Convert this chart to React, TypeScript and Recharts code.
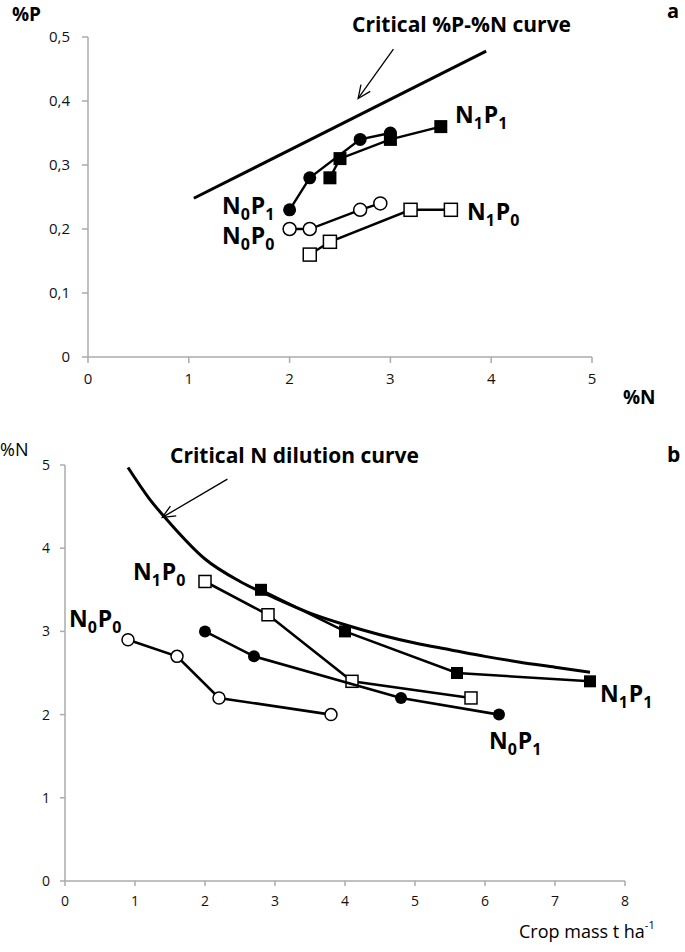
import React from 'react';
import {
    ScatterChart,
    Scatter,
    XAxis,
    YAxis,
    ReferenceLine,
} from 'recharts';

// ---- panel a: %P vs %N ----
const pTicksX = [0, 1, 2, 3, 4, 5];
const pTicksY = [0, 0.1, 0.2, 0.3, 0.4, 0.5];
const criticalPN = [{ x: 1.05, y: 0.248 }, { x: 3.95, y: 0.478 }];
const aN0P1 = [{ x: 2.0, y: 0.23 }, { x: 2.2, y: 0.28 }, { x: 2.7, y: 0.34 }, { x: 3.0, y: 0.35 }];
const aN1P1 = [{ x: 2.4, y: 0.28 }, { x: 2.5, y: 0.31 }, { x: 3.0, y: 0.34 }, { x: 3.5, y: 0.36 }];
const aN0P0 = [{ x: 2.0, y: 0.2 }, { x: 2.2, y: 0.2 }, { x: 2.7, y: 0.23 }, { x: 2.9, y: 0.24 }];
const aN1P0 = [{ x: 2.2, y: 0.16 }, { x: 2.4, y: 0.18 }, { x: 3.2, y: 0.23 }, { x: 3.6, y: 0.23 }];
const aArrow = [{ x: 3.03, y: 0.481 }, { x: 2.68, y: 0.404 }];

// ---- panel b: %N vs crop mass ----
const bTicksX = [0, 1, 2, 3, 4, 5, 6, 7, 8];
const bTicksY = [0, 1, 2, 3, 4, 5];
const dilutionCurve = [
    { x: 0.9, y: 4.97 }, { x: 1.2, y: 4.6 }, { x: 1.5, y: 4.3 }, { x: 2.0, y: 3.87 },
    { x: 2.5, y: 3.6 }, { x: 3.0, y: 3.4 }, { x: 3.5, y: 3.22 }, { x: 4.0, y: 3.08 },
    { x: 4.5, y: 2.96 }, { x: 5.0, y: 2.86 }, { x: 5.5, y: 2.78 }, { x: 6.0, y: 2.7 },
    { x: 6.5, y: 2.63 }, { x: 7.0, y: 2.57 }, { x: 7.5, y: 2.51 },
];
const bN0P0 = [{ x: 0.9, y: 2.9 }, { x: 1.6, y: 2.7 }, { x: 2.2, y: 2.2 }, { x: 3.8, y: 2.0 }];
const bN0P1 = [{ x: 2.0, y: 3.0 }, { x: 2.7, y: 2.7 }, { x: 4.8, y: 2.2 }, { x: 6.2, y: 2.0 }];
const bN1P0 = [{ x: 2.0, y: 3.6 }, { x: 2.9, y: 3.2 }, { x: 4.1, y: 2.4 }, { x: 5.8, y: 2.2 }];
const bN1P1 = [{ x: 2.8, y: 3.5 }, { x: 4.0, y: 3.0 }, { x: 5.6, y: 2.5 }, { x: 7.5, y: 2.4 }];
const bArrow = [{ x: 2.32, y: 4.83 }, { x: 1.39, y: 4.37 }];

const FONT = '"Open Sans", "Noto Sans", sans-serif';
const AXIS = '#ababab';

const markers = (size: number) => ({
    filledCircle: (p: any) => <circle cx={p.cx} cy={p.cy} r={size / 2} fill="#000" />,
    openCircle: (p: any) => <circle cx={p.cx} cy={p.cy} r={size / 2} fill="#fff" stroke="#000" strokeWidth={1.5} />,
    filledSquare: (p: any) => <rect x={p.cx - size / 2} y={p.cy - size / 2} width={size} height={size} fill="#000" />,
    openSquare: (p: any) => <rect x={p.cx - size / 2} y={p.cy - size / 2} width={size} height={size} fill="#fff" stroke="#000" strokeWidth={1.5} />,
});
const none = () => <g />;

const Arrow = (p: any) => {
    const { x1, y1, x2, y2 } = p;
    const ang = Math.atan2(y2 - y1, x2 - x1);
    const L = 14, a = 0.42;
    const h1 = `${x2 - L * Math.cos(ang - a)},${y2 - L * Math.sin(ang - a)}`;
    const h2 = `${x2 - L * Math.cos(ang + a)},${y2 - L * Math.sin(ang + a)}`;
    return (
        <g stroke="#000" strokeWidth={1.3} fill="none">
            <line x1={x1} y1={y1} x2={x2} y2={y2} />
            <polyline points={`${h1} ${x2},${y2} ${h2}`} />
        </g>
    );
};

const commaFmt = (v: number) => (v === 0 ? '0' : v.toFixed(1).replace('.', ','));

// label like N1P1 with subscripts
const NP = ({ x, y, n, p }: { x: number; y: number; n: string; p: string }) => (
    <text x={x} y={y} fontFamily={FONT} fontWeight={700} fontSize={23} fill="#000">
        N<tspan fontSize={16} dy={6}>{n}</tspan>
        <tspan dy={-6} dx={1}>P</tspan>
        <tspan fontSize={16} dy={6}>{p}</tspan>
    </text>
);

export default function App() {
    const mA = markers(13);
    const mB = markers(12);
    const lineA = { stroke: '#000', strokeWidth: 2.4 };
    const lineB = { stroke: '#000', strokeWidth: 2.6 };
    return (
        <div style={{ position: 'absolute', left: 0, top: 0, width: 685, height: 952, background: '#fff', fontFamily: FONT }}>
            <div style={{ position: 'absolute', left: 0, top: 0 }}>
                <ScatterChart width={685} height={400} margin={{ top: 37, right: 93, left: 28, bottom: 13 }}>
                    <XAxis
                        type="number" dataKey="x" domain={[0, 5]} ticks={pTicksX} height={30}
                        axisLine={{ stroke: AXIS, strokeWidth: 1.5 }} tickLine={{ stroke: AXIS, strokeWidth: 1.5 }}
                        tickSize={6} tickMargin={10}
                        tick={{ fontSize: 15, fill: '#111', fontFamily: FONT }}
                    />
                    <YAxis
                        type="number" dataKey="y" domain={[0, 0.5]} ticks={pTicksY} width={60}
                        axisLine={{ stroke: AXIS, strokeWidth: 1.5 }} tickLine={{ stroke: AXIS, strokeWidth: 1.5 }}
                        tickSize={6} tickMargin={12} tickFormatter={commaFmt}
                        tick={{ fontSize: 15, fill: '#111', fontFamily: FONT }}
                    />
                    <Scatter data={criticalPN} line={{ stroke: '#000', strokeWidth: 3 }} shape={none} isAnimationActive={false} />
                    <ReferenceLine segment={aArrow} shape={Arrow} ifOverflow="visible" />
                    <Scatter data={aN0P0} line={lineA} shape={mA.openCircle} isAnimationActive={false} />
                    <Scatter data={aN1P0} line={lineA} shape={mA.openSquare} isAnimationActive={false} />
                    <Scatter data={aN1P1} line={lineA} shape={mA.filledSquare} isAnimationActive={false} />
                    <Scatter data={aN0P1} line={lineA} shape={mA.filledCircle} isAnimationActive={false} />
                </ScatterChart>
            </div>
            <div style={{ position: 'absolute', left: 0, top: 420 }}>
                <ScatterChart width={685} height={500} margin={{ top: 45, right: 60, left: 25, bottom: 9 }}>
                    <XAxis
                        type="number" dataKey="x" domain={[0, 8]} ticks={bTicksX} height={30}
                        axisLine={{ stroke: AXIS, strokeWidth: 1.5 }} tickLine={{ stroke: AXIS, strokeWidth: 1.5 }}
                        tickSize={5} tickMargin={10}
                        tick={{ fontSize: 14, fill: '#111', fontFamily: FONT }}
                    />
                    <YAxis
                        type="number" dataKey="y" domain={[0, 5]} ticks={bTicksY} width={40}
                        axisLine={{ stroke: AXIS, strokeWidth: 1.5 }} tickLine={{ stroke: AXIS, strokeWidth: 1.5 }}
                        tickSize={5} tickMargin={10}
                        tick={{ fontSize: 14, fill: '#111', fontFamily: FONT }}
                    />
                    <Scatter data={dilutionCurve} line={{ stroke: '#000', strokeWidth: 3 }} lineJointType="monotone" shape={none} isAnimationActive={false} />
                    <ReferenceLine segment={bArrow} shape={Arrow} ifOverflow="visible" />
                    <Scatter data={bN0P0} line={lineB} shape={mB.openCircle} isAnimationActive={false} />
                    <Scatter data={bN1P0} line={lineB} shape={mB.openSquare} isAnimationActive={false} />
                    <Scatter data={bN0P1} line={lineB} shape={mB.filledCircle} isAnimationActive={false} />
                    <Scatter data={bN1P1} line={lineB} shape={mB.filledSquare} isAnimationActive={false} />
                </ScatterChart>
            </div>
            <svg width={685} height={952} style={{ position: 'absolute', left: 0, top: 0, pointerEvents: 'none' }}>
                {/* panel a texts */}
                <text x={12} y={21} fontFamily={FONT} fontWeight={700} fontSize={19}>%P</text>
                <text x={667} y={18} fontFamily={FONT} fontWeight={700} fontSize={20}>a</text>
                <text x={352} y={32} fontFamily={FONT} fontWeight={700} fontSize={21}>Critical %P-%N curve</text>
                <text x={623} y={404} fontFamily={FONT} fontWeight={700} fontSize={19}>%N</text>
                <NP x={455} y={123} n="1" p="1" />
                <NP x={222} y={214} n="0" p="1" />
                <NP x={222} y={244} n="0" p="0" />
                <NP x={467} y={220} n="1" p="0" />
                {/* panel b texts */}
                <text x={0} y={456} fontFamily={FONT} fontSize={18}>%N</text>
                <text x={667} y={462} fontFamily={FONT} fontWeight={700} fontSize={21}>b</text>
                <text x={170} y={463} fontFamily={FONT} fontWeight={700} fontSize={21}>Critical N dilution curve</text>
                <NP x={133} y={580} n="1" p="0" />
                <NP x={69} y={627} n="0" p="0" />
                <NP x={600} y={702} n="1" p="1" />
                <NP x={489} y={749} n="0" p="1" />
                <text x={519} y={938} fontFamily={FONT} fontSize={18}>
                    Crop mass t ha<tspan fontSize={11} dy={-9}>-1</tspan>
                </text>
            </svg>
        </div>
    );
}
